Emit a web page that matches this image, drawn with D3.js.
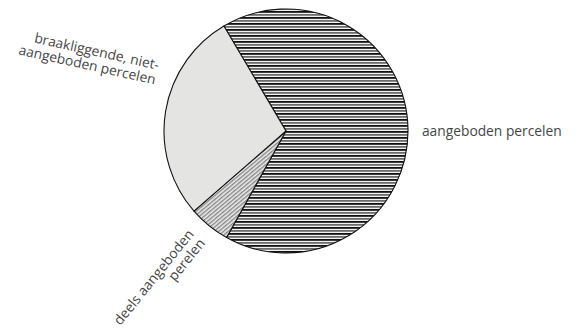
<!DOCTYPE html>
<html>
<head>
<meta charset="utf-8">
<script src="https://cdn.jsdelivr.net/npm/d3@7"></script>
<style>
  body { margin: 0; background: #fff; }
  svg text { font-family: "Open Sans", sans-serif; fill: #464646; }
</style>
</head>
<body>
<div id="chart"></div>
<script>
// Slice data, clockwise from the top-left boundary
const categories = ['aangeboden percelen', 'deels aangeboden perelen', 'braakliggende, niet-aangeboden percelen'];
const shares = [66.6, 5.5, 27.9];
// Label lines for each slice
const labelLines = [
  ['aangeboden percelen'],
  ['deels aangeboden', 'perelen'],
  ['braakliggende, niet-', 'aangeboden percelen']
];

let w = 579, h = 329,
  cx = 286, cy = 131, r = 122,
  startDeg = -30.6, // first boundary (degrees clockwise from 12 o'clock)
  fills = ['url(#hlines)', 'url(#hatch)', '#e4e5e3'],
  // label placement: polar anchor (deg, distance beyond rim), rotation, anchor, line height
  labelPos = [
    {deg: 92.1, dist: 14, rot: 0, anchor: 'start', lh: 14},
    {deg: 221.5, dist: 16, rot: -51, anchor: 'end', lh: 14.5},
    {deg: 295.5, dist: 20, rot: 12.5, anchor: 'end', lh: 15}
  ];

let svg = d3.select('#chart').append('svg')
  .attr('width', w).attr('height', h);

let defs = svg.append('defs');

// Horizontal line fill for the big slice
let hl = defs.append('pattern').attr('id', 'hlines')
  .attr('patternUnits', 'userSpaceOnUse')
  .attr('width', 6).attr('height', 6);
hl.append('rect').attr('width', 6).attr('height', 6).attr('fill', '#f2f2f2');
hl.append('rect').attr('y', 0).attr('width', 6).attr('height', 1.8).attr('fill', '#111');
hl.append('rect').attr('y', 3).attr('width', 6).attr('height', 1.8).attr('fill', '#6e6e6e');

// Fine diagonal hatch for the small slice
let hp = defs.append('pattern').attr('id', 'hatch')
  .attr('patternUnits', 'userSpaceOnUse')
  .attr('width', 3).attr('height', 3)
  .attr('patternTransform', 'rotate(-40)');
hp.append('rect').attr('width', 3).attr('height', 3).attr('fill', '#eeeeee');
hp.append('rect').attr('width', 3).attr('height', 1.4).attr('fill', '#858585');

let pie = d3.pie().sort(null).value(d => d)
  .startAngle(startDeg * Math.PI / 180)
  .endAngle(startDeg * Math.PI / 180 + 2 * Math.PI);

let arc = d3.arc().innerRadius(0).outerRadius(r);

let g = svg.append('g').attr('transform', `translate(${cx},${cy})`);

g.selectAll('path')
  .data(pie(shares))
  .enter().append('path')
  .attr('d', arc)
  .attr('fill', (d, i) => fills[i])
  .attr('stroke', '#111')
  .attr('stroke-width', 1.1)
  .attr('stroke-linejoin', 'round');

// Labels
labelLines.forEach((lines, i) => {
  let p = labelPos[i],
    a = p.deg * Math.PI / 180,
    x = cx + (r + p.dist) * Math.sin(a),
    y = cy - (r + p.dist) * Math.cos(a);
  let t = svg.append('text')
    .attr('transform', `translate(${x},${y}) rotate(${p.rot})`)
    .attr('text-anchor', p.anchor)
    .attr('font-size', 13.8);
  lines.forEach((ln, j) => {
    t.append('tspan').attr('x', 0).attr('y', j * p.lh).text(ln);
  });
});
</script>
</body>
</html>
